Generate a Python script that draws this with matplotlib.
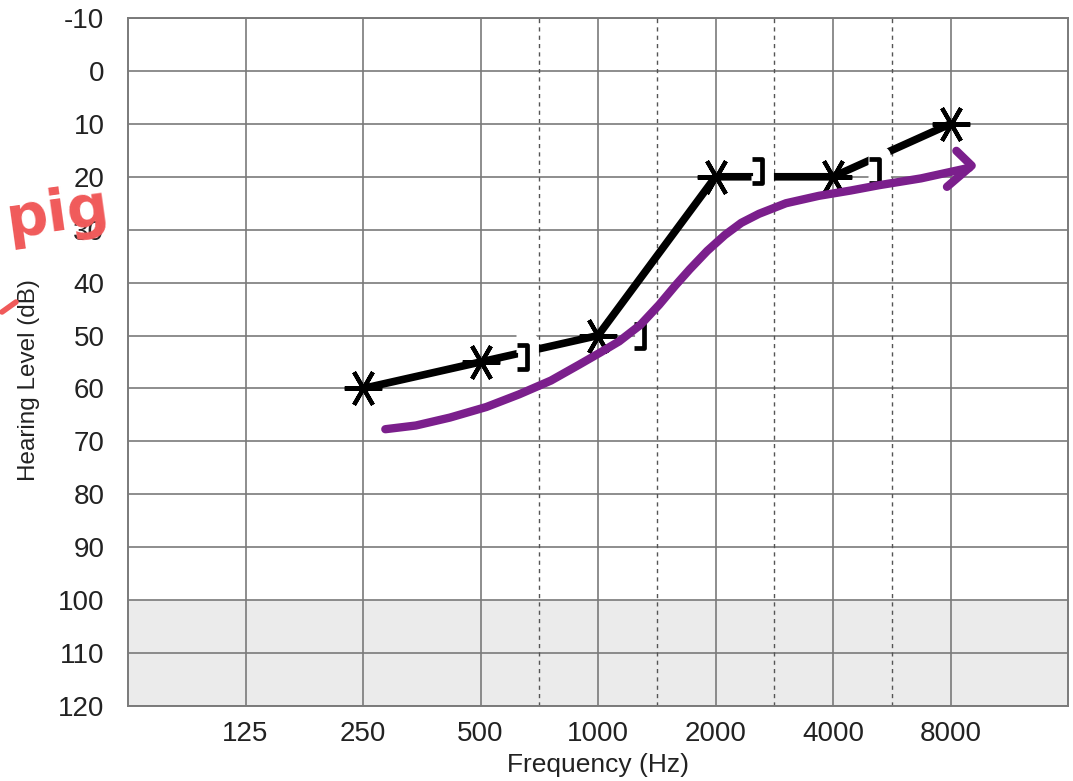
import matplotlib
matplotlib.use("Agg")
import matplotlib.pyplot as plt
from matplotlib.path import Path
import numpy as np

plt.rcParams['font.family'] = ['Liberation Sans', 'DejaVu Sans']

# ---- data ----
freq_labels = ["125", "250", "500", "1000", "2000", "4000", "8000"]
db_ticks = list(range(-10, 121, 10))
mid_freqs_idx = [2.5, 3.5, 4.5, 5.5]          # 750, 1500, 3000, 6000 Hz
air_idx = [1, 2, 3, 4, 5, 6]                   # 250 .. 8000 Hz
air_db = [60, 55, 50, 20, 20, 10]
bone_idx = [2, 3, 4, 5]                        # 500 .. 4000 Hz
bone_db = [54, 50, 19, 19]
bone_offset = 0.35
# hand-drawn purple arrow (freq index, dB)
purple_x = [1.19, 1.45, 1.74, 2.05, 2.33, 2.6, 2.84, 3.02, 3.18, 3.36, 3.52, 3.66, 3.78, 3.93, 4.08, 4.22, 4.37, 4.6, 4.88, 5.15, 5.39, 5.75, 6.16]
purple_db = [67.7, 67.0, 65.5, 63.5, 61.1, 58.5, 55.5, 53.2, 51.1, 48.0, 44.2, 40.5, 37.5, 34.0, 31.0, 28.7, 27.0, 25.0, 23.6, 22.6, 21.6, 20.3, 18.3]
arrow_x = [6.05, 6.18, 5.97]
arrow_db = [15.1, 17.9, 21.9]

fig = plt.figure(figsize=(10.73, 7.81), dpi=100)
ax = fig.add_axes([128/1073, 75/781, 940/1073, 688/781])

ax.set_xlim(-1, 7)
ax.set_ylim(120, -10)
ax.axhspan(100, 120, color='#ebebeb', zorder=0)

ax.set_xticks(range(len(freq_labels)))
ax.set_xticklabels(freq_labels)
ax.set_yticks(db_ticks)
ax.set_yticklabels([str(v) for v in db_ticks])
ax.tick_params(axis='both', length=0, labelsize=20, colors='#222222')
ax.tick_params(axis='y', pad=17)
ax.tick_params(axis='x', pad=11)
ax.grid(True, color='#7a7a7a', linewidth=1.2, zorder=1)
ax.set_axisbelow(True)
for x in mid_freqs_idx:
    ax.axvline(x, color='#555555', linewidth=1.0, linestyle=(0, (3, 3)), zorder=1)
for s in ax.spines.values():
    s.set_color('#7a7a7a')
    s.set_linewidth(1.4)

ax.set_xlabel("Frequency (Hz)", fontsize=19, color='#222222')
ax.xaxis.set_label_coords(0.5, -0.068)
ax.set_ylabel("Hearing Level (dB)", fontsize=17.5, color='#222222')
ax.yaxis.set_label_coords(-0.094, 0.474)

# air conduction
ax.plot(air_idx, air_db, color='black', linewidth=5.5, zorder=3, solid_capstyle='round')
ax.plot(air_idx, air_db, linestyle='none', marker=(6, 2, 90), markersize=27,
        markeredgewidth=3.0, color='black', zorder=5)

# bone conduction brackets
bracket = Path([(-0.4, 1), (0.4, 1), (0.4, -1), (-0.4, -1)],
               [Path.MOVETO, Path.LINETO, Path.LINETO, Path.LINETO])
bx = [v + bone_offset for v in bone_idx]
ax.plot(bx, bone_db, linestyle='none', marker=bracket, markersize=21,
        markerfacecolor='none', markeredgecolor='white', markeredgewidth=15, zorder=4)
ax.plot(bx, bone_db, linestyle='none', marker=bracket, markersize=17,
        markerfacecolor='none', markeredgecolor='black', markeredgewidth=3.4, zorder=5)

# purple hand-drawn arrow
purple = '#7b1f8c'
ax.plot(purple_x, purple_db, color=purple, linewidth=6, solid_capstyle='round',
        solid_joinstyle='round', zorder=6, clip_on=False)
ax.plot(arrow_x, arrow_db, color=purple, linewidth=6, solid_capstyle='round',
        solid_joinstyle='round', zorder=6, clip_on=False)

# red handwritten note
fig.text(2/1073, 1 - 250/781, "pig", fontsize=42, color='#f05a5a',
         fontweight='bold', rotation=8,
         family=['DejaVu Sans'], ha='left', va='bottom')
fig.lines.append(plt.Line2D([2/1073, 16/1073], [1 - 312/781, 1 - 302/781],
                            transform=fig.transFigure, color='#f05a5a', linewidth=4,
                            solid_capstyle='round'))

fig.savefig("out.png", dpi=100)
